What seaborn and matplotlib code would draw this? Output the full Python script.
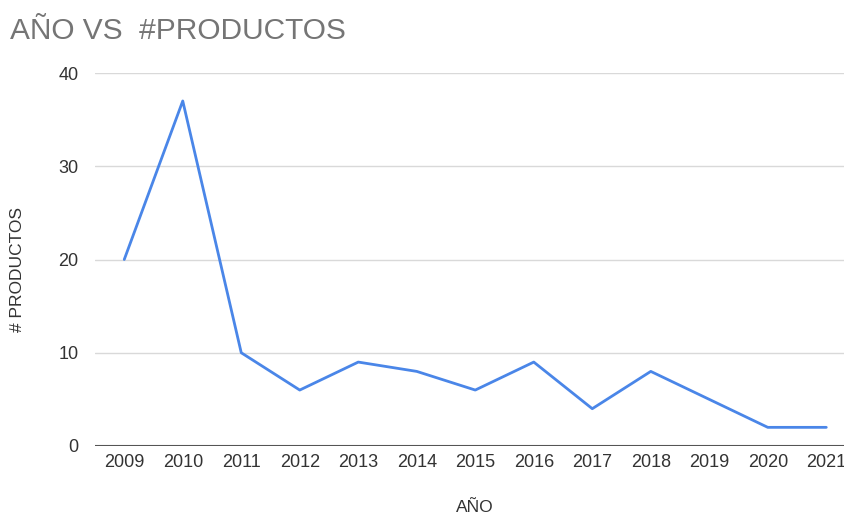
import matplotlib
matplotlib.use("Agg")
import matplotlib.pyplot as plt
import seaborn as sns
import pandas as pd

years = [2009, 2010, 2011, 2012, 2013, 2014, 2015, 2016, 2017, 2018, 2019, 2020, 2021]
productos = [20, 37, 10, 6, 9, 8, 6, 9, 4, 8, 5, 2, 2]
y_ticks = [0, 10, 20, 30, 40]

sns.set_theme(style="white")
plt.rcParams['font.family'] = ['Liberation Sans', 'DejaVu Sans']

df = pd.DataFrame({"AÑO": years, "# PRODUCTOS": productos})

fig = plt.figure(figsize=(8.45, 5.15), dpi=100)
ax = fig.add_axes([95/845, (515-446)/515, (845-95)/845, (446-73)/515])

sns.lineplot(data=df, x="AÑO", y="# PRODUCTOS", ax=ax, color="#4a86e8", linewidth=2.0)

ax.set_xlim(2008.5, 2021.32)
ax.set_ylim(0, 40)
ax.set_yticks(y_ticks)
ax.set_xticks(years)
ax.set_xticklabels([str(y) for y in years])
for s in ax.spines.values():
    s.set_visible(False)
ax.grid(axis="y", color="#d9d9d9", linewidth=1)
ax.axhline(0, color="#555555", linewidth=1.5, zorder=3)
ax.tick_params(axis="both", length=0, labelsize=13, colors="#333333")
ax.tick_params(axis="y", pad=12)
ax.tick_params(axis="x", pad=6)
ax.set_xlabel("")
ax.set_ylabel("")

fig.text(475/845, 1 - 507/515, "AÑO", fontsize=12.5, color="#333333",
         ha="center", va="center")
fig.text(18/845, 1 - 270/515, "# PRODUCTOS", fontsize=12.5, color="#333333",
         ha="center", va="center", rotation=90)
fig.text(10/845, 1 - 31/515, "AÑO VS  #PRODUCTOS", fontsize=21.5, color="#757575",
         ha="left", va="center")

fig.savefig("out.png", dpi=100)
